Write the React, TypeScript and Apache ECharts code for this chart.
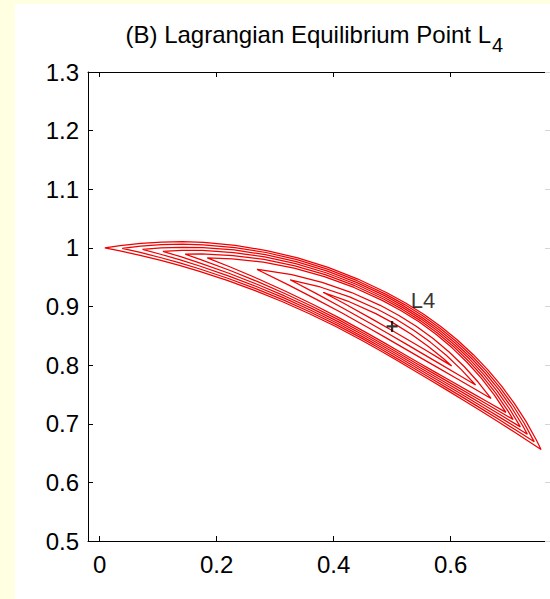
import React, { useEffect, useRef } from "react";
import * as echarts from "echarts";

// ---- data ----
const TITLE_MAIN = "(B) Lagrangian Equilibrium Point L";
const TITLE_SUB = "4";
const X_TICKS = [0, 0.2, 0.4, 0.6];
const Y_TICKS = [0.5, 0.6, 0.7, 0.8, 0.9, 1, 1.1, 1.2, 1.3];
const L4_POINT = [0.5, 0.866];
const L4_LABEL_POS = [0.532, 0.911];
const L4_LABEL = "L4";

// Contours traced along the ring of radius 1: angle (deg) and radial half-width (thousandths)
const ANGLES = [88, 86, 84, 82, 80, 77, 74, 71, 68, 65, 62, 60, 58, 56, 54, 52, 50, 48, 46, 44, 42];
const TIP_LEFT = [89.5, 87.8, 85.8, 83.8, 81.6, 79.4, 74.4, 71, 67.5];
const TIP_RIGHT = [41, 42, 43, 44, 45, 46, 48, 50, 53];
const C1 = [4.6, 10.3, 15.5, 20.4, 24.8, 30.7, 35.6, 39.6, 42.6, 44.7, 45.8, 46, 45.5, 44.0, 41.4, 37.8, 33.3, 27.6, 21.0, 13.4, 4.7];
const C2 = [null, 5.4, 11.0, 16.1, 20.7, 26.9, 32.1, 36.3, 39.4, 41.6, 42.8, 43, 42.5, 40.9, 38.2, 34.5, 29.7, 23.9, 17.0, 9.0, null];
const C3 = [null, null, 5.4, 10.9, 16.0, 22.6, 28.2, 32.7, 36.2, 38.5, 39.8, 40, 39.4, 37.8, 35.0, 31.1, 26.2, 20.1, 12.9, 4.6, null];
const C4 = [null, null, null, 5.4, 10.9, 18.1, 24.2, 29.1, 32.8, 35.4, 36.7, 37, 36.4, 34.7, 31.8, 27.8, 22.5, 16.2, 8.7, null, null];
const C5 = [null, null, null, null, 4.9, 12.9, 19.7, 25.2, 29.3, 32.2, 33.7, 34, 33.4, 31.6, 28.6, 24.3, 18.9, 12.2, 4.4, null, null];
const C6 = [null, null, null, null, null, 7.2, 14.9, 21.0, 25.7, 28.9, 30.7, 31, 30.4, 28.5, 25.3, 20.9, 15.2, 8.2, null, null, null];
const C7 = [null, null, null, null, null, null, 1.2, 9.2, 15.2, 19.3, 21.6, 22, 21.4, 19.6, 16.5, 12.2, 6.7, null, null, null, null];
const C8 = [null, null, null, null, null, null, null, null, 6.6, 11.1, 13.5, 14, 13.4, 11.8, 9.0, 5.0, null, null, null, null, null];
const C9 = [null, null, null, null, null, null, null, null, null, 3.3, 5.6, 6, 5.5, 4.0, 1.6, null, null, null, null, null, null];
const CONTOURS = [C1, C2, C3, C4, C5, C6, C7, C8, C9];
const RING_RADIUS = 1;

const FONT = "'Liberation Sans', Arial, Helvetica, sans-serif";

function polar(deg: number, r: number): number[] {
  const a = (deg * Math.PI) / 180;
  return [r * Math.cos(a), r * Math.sin(a)];
}

function buildLoop(k: number): number[][] {
  const w = CONTOURS[k];
  const pts: number[][] = [polar(TIP_LEFT[k], RING_RADIUS)];
  for (let i = 0; i < ANGLES.length; i++) {
    if (w[i] != null) pts.push(polar(ANGLES[i], RING_RADIUS + (w[i] as number) / 1000));
  }
  pts.push(polar(TIP_RIGHT[k], RING_RADIUS));
  for (let i = ANGLES.length - 1; i >= 0; i--) {
    if (w[i] != null) pts.push(polar(ANGLES[i], RING_RADIUS - (w[i] as number) / 1000));
  }
  pts.push(polar(TIP_LEFT[k], RING_RADIUS));
  return pts;
}

export default function App() {
  const ref = useRef<HTMLDivElement>(null);
  useEffect(() => {
    const chart = echarts.init(ref.current!, null, { renderer: "svg" });
    const axisCommon = {
      type: "value" as const,
      splitLine: { show: false },
      axisLine: { show: true, onZero: false, lineStyle: { color: "#000", width: 1 } },
    };
    const contourSeries = CONTOURS.map((_, k) => ({
      type: "line",
      data: buildLoop(k),
      showSymbol: false,
      symbol: "none",
      silent: true,
      xAxisIndex: 0,
      yAxisIndex: 0,
      lineStyle: { color: "#f00000", width: 1.25 },
      z: 2,
    }));
    chart.setOption({
      animation: false,
      backgroundColor: "#ffffff",
      grid: { left: 88, top: 72, right: -2, bottom: 58 },
      xAxis: [
        {
          ...axisCommon,
          position: "bottom",
          min: -0.02,
          max: 0.77,
          axisTick: { show: true, inside: true, length: 5, customValues: X_TICKS, lineStyle: { color: "#000" } },
          axisLabel: {
            show: true,
            customValues: X_TICKS,
            margin: 11,
            color: "#000",
            fontSize: 24,
            fontFamily: FONT,
          },
        },
        {
          ...axisCommon,
          position: "top",
          min: -0.02,
          max: 0.77,
          axisTick: { show: true, inside: true, length: 5, customValues: X_TICKS, lineStyle: { color: "#000" } },
          axisLabel: { show: false },
        },
      ],
      yAxis: [
        {
          ...axisCommon,
          position: "left",
          min: 0.5,
          max: 1.3,
          axisTick: { show: true, inside: true, length: 5, customValues: Y_TICKS, lineStyle: { color: "#000" } },
          axisLabel: {
            show: true,
            customValues: Y_TICKS,
            margin: 9,
            color: "#000",
            fontSize: 24,
            fontFamily: FONT,
          },
        },
        {
          ...axisCommon,
          position: "right",
          min: 0.5,
          max: 1.3,
          axisTick: { show: true, inside: true, length: 5, customValues: Y_TICKS, lineStyle: { color: "#d4d4d4" } },
          axisLabel: { show: false },
        },
      ],
      graphic: [
        { type: "rect", shape: { x: 0, y: 0, width: 15, height: 599 }, style: { fill: "#ffffe2" }, z: -10, silent: true },
        { type: "rect", shape: { x: 0, y: 0, width: 550, height: 4 }, style: { fill: "#ffffe2" }, z: -10, silent: true },
        {
          type: "text",
          x: 491,
          y: 34,
          style: {
            text: TITLE_MAIN,
            fill: "#000",
            fontSize: 24,
            fontFamily: FONT,
            align: "right",
            verticalAlign: "middle",
          },
        },
        {
          type: "text",
          x: 492,
          y: 45,
          style: {
            text: TITLE_SUB,
            fill: "#000",
            fontSize: 20,
            fontFamily: FONT,
            align: "left",
            verticalAlign: "middle",
          },
        },
      ],
      series: [
        ...contourSeries,
        {
          type: "scatter",
          data: [L4_POINT],
          symbol: "path://M4,0h2v4h4v2h-4v4h-2v-4h-4v-2h4z",
          symbolSize: 11,
          itemStyle: { color: "#000" },
          silent: true,
          z: 5,
        },
        {
          type: "scatter",
          data: [L4_LABEL_POS],
          symbolSize: 0,
          silent: true,
          z: 5,
          label: {
            show: true,
            position: "right",
            distance: 0,
            formatter: L4_LABEL,
            color: "#000",
            fontSize: 22,
            fontFamily: FONT,
          },
        },
      ],
    });
    return () => chart.dispose();
  }, []);
  return <div ref={ref} style={{ position: "absolute", left: 0, top: 0, width: 550, height: 599 }} />;
}
